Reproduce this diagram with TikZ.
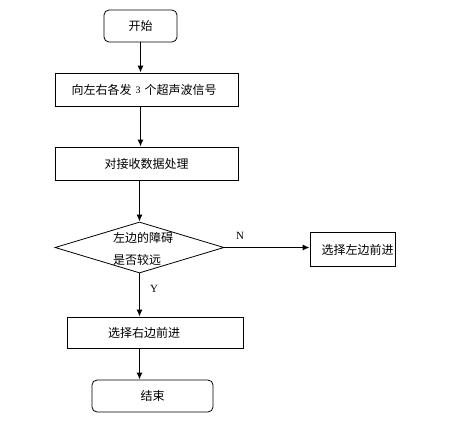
\documentclass[tikz,border=0pt]{standalone}
\usepackage{fontspec}
\setmainfont{Liberation Serif}
\newfontfamily\cjk{Noto Sans CJK SC}
\usetikzlibrary{shapes.geometric,arrows.meta}
\begin{document}
\begin{tikzpicture}[x=1pt,y=-1pt,
  box/.style={draw=black,line width=0.8pt,rectangle,inner sep=0pt,font=\cjk\fontsize{12}{14}\selectfont},
  rbox/.style={box,rounded corners=5pt},
  arr/.style={draw=black,line width=1.2pt,-{Latex[length=7pt,width=6pt]}},
  lab/.style={font=\fontsize{11}{13}\selectfont,inner sep=0pt}]
\useasboundingbox[fill=white] (0,0) rectangle (471,429);
% nodes
\node[rbox,minimum width=73pt,minimum height=32pt] (start) at (140.5,26) {开始};
\node[box,minimum width=183pt,minimum height=33pt] (b2) at (146.5,89.5) {};
\node[font=\cjk\fontsize{12}{14}\selectfont,inner sep=0pt] (t2) at (144,90) {向左右各发\hspace{4pt}{\rmfamily\fontsize{10}{12}\selectfont\raisebox{1.5pt}{3}}\hspace{4pt}个超声波信号};
\node[box,minimum width=183pt,minimum height=33pt] (b3) at (146.5,163.5) {对接收数据处理};
\node[draw=black,line width=0.8pt,diamond,inner sep=0pt,minimum width=169pt,minimum height=51pt] (dec) at (139.5,247.5) {};
\node[font=\cjk\fontsize{12}{14}\selectfont,align=left,inner sep=0pt] (dect) at (143,248.5) {左边的障碍\\[8pt]是否较远};
\node[box,minimum width=85pt,minimum height=34pt] (left) at (352.5,249) {};
\node[font=\cjk\fontsize{12}{14}\selectfont,inner sep=0pt] (leftt) at (357.5,250) {选择左边前进};
\node[box,minimum width=176pt,minimum height=31pt] (right) at (155,332.5) {};
\node[font=\cjk\fontsize{12}{14}\selectfont,inner sep=0pt] (rightt) at (144,333) {选择右边前进};
\node[rbox,minimum width=121pt,minimum height=32pt] (end) at (152.5,396) {结束};
% connectors
\draw[arr] (start.south) -- (start.south |- b2.north);
\draw[arr] (start.south |- b2.south) -- (start.south |- b3.north);
\draw[arr] (dec.north |- b3.south) -- (dec.north);
\draw[arr] (dec.east) -- (dec.east -| left.west);
\draw[arr] (dec.south) -- (dec.south |- right.north);
\draw[arr] (dec.south |- right.south) -- (dec.south |- end.north);
% labels
\node[lab] (nl) at (240,236) {N};
\node[lab] (yl) at (154,289) {Y};
\end{tikzpicture}
\end{document}
